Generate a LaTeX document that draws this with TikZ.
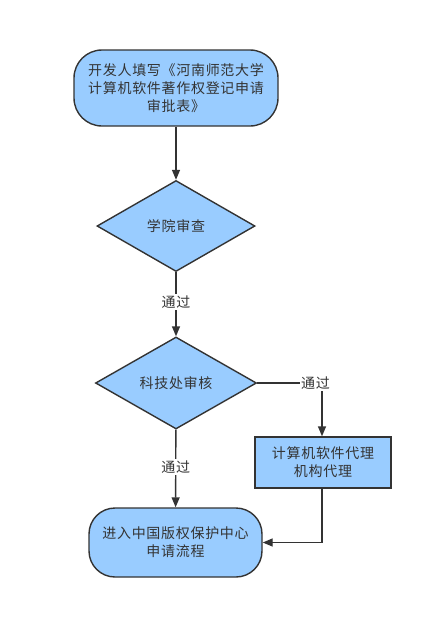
\documentclass[tikz,border=0pt]{standalone}
\usepackage{fontspec}
\setmainfont{Noto Sans CJK SC}[LetterSpace=5]
\usetikzlibrary{shapes.geometric,arrows.meta}
\definecolor{fillblue}{HTML}{99CCFF}
\definecolor{edge}{HTML}{333333}
\begin{document}
\begin{tikzpicture}[x=1pt,y=-1pt,
  base/.style={draw=edge,fill=fillblue,line width=1.4pt,text=edge,font=\fontsize{14}{18}\selectfont,align=center,inner sep=0pt},
  term/.style={base,rounded corners=28pt},
  dec/.style={base,diamond},
  proc/.style={base,rectangle},
  conn/.style={draw=edge,line width=1.4pt,-{Triangle[length=10pt,width=8pt]}},
  lab/.style={fill=white,text=edge,font=\fontsize{14}{16}\selectfont,inner sep=1.5pt}
]
\useasboundingbox (0,0) rectangle (439,619);
\node[term,minimum width=204pt,minimum height=76pt] (start) at (176,88) {开发人填写《河南师范大学\\计算机软件著作权登记申请\\审批表》};
\node[dec,minimum width=158pt,minimum height=91pt] (d1) at (176,226) {学院审查};
\node[dec,minimum width=161pt,minimum height=92pt] (d2) at (176,383) {科技处审核};
\node[proc,minimum width=136pt,minimum height=51pt] (agent) at (323,462.5) {计算机软件代理\\机构代理};
\node[term,minimum width=173pt,minimum height=69pt,rounded corners=26pt] (end) at (175.5,542.5) {进入中国版权保护中心\\申请流程};
\coordinate (c1) at (322,383);
\coordinate (c2) at (322,542.5);
\draw[conn] (start) -- (d1);
\draw[conn] (d1) -- node[lab,pos=0.47]{通过} (d2);
\draw[conn] (d2) -- node[lab,pos=0.48]{通过} (end);
\draw[conn] (d2.east) -- node[lab,pos=0.9]{通过} (c1) -- (agent.north -| c1);
\draw[conn] (agent.south -| c2) -- (c2) -- (end.east);
\end{tikzpicture}
\end{document}
